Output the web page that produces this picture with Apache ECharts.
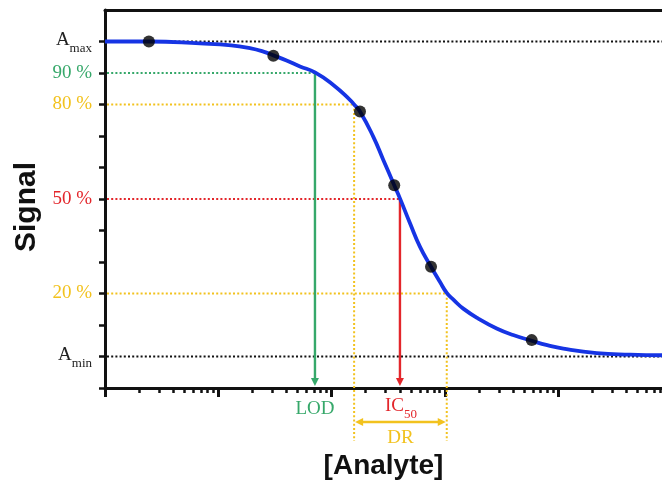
<!DOCTYPE html>
<html><head><meta charset="utf-8">
<script src="https://cdn.jsdelivr.net/npm/echarts@6/dist/echarts.min.js"></script>
<style>html,body{margin:0;padding:0;background:#fff}#c{width:662px;height:482px}</style>
</head><body><div id="c"></div>
<script>
// ---- data ----
const curveX = [1, 2.44, 6.9, 13, 19.0, 25, 30.6, 40, 52.6, 71.3, 103.5, 145, 158, 178, 233, 286, 357, 401, 492, 603, 754, 900, 1038, 1200, 1452, 2000, 2864, 4000, 5834, 8000, 11100, 21900, 43000, 82400];
const curveY = [11.0, 11.0, 10.94, 10.88, 10.79, 10.68, 10.56, 10.4, 10.21, 10.02, 9.62, 9.15, 9.0, 8.78, 7.98, 7.24, 6.44, 6.02, 5.23, 4.48, 3.85, 3.38, 3.02, 2.79, 2.52, 2.19, 1.89, 1.68, 1.50, 1.36, 1.25, 1.11, 1.06, 1.04];
const pointX = [2.44, 30.6, 178, 357, 754, 5834];
const pointY = [11.0, 10.55, 8.78, 6.44, 3.85, 1.52];
const levelValues = [11, 10, 9, 6, 3, 1];
const levelLabels = ['A|max', '90 %', '80 %', '50 %', '20 %', 'A|min'];
const yTickValues = [0, 1, 2, 3, 4, 5, 6, 7, 8, 9, 10, 11];
const majorTicks = [1, 10, 100, 1000, 10000];
const minorTicks = [2,3,4,5,6,7,8,9,20,30,40,50,60,70,80,90,200,300,400,500,600,700,800,900,2000,3000,4000,5000,6000,7000,8000,9000,20000,30000,40000,50000,60000,70000,80000];
const xMin = 1, xMax = 82400, yMin = 0, yMax = 12;
const lodX = 71.3, drLowX = 158, ic50X = 401, drHighX = 1038;
const amax = 11, amin = 1, p90 = 10, p80 = 9, p50 = 6, p20 = 3;

// ---- styles ----
const GREEN = '#36a86a', GOLD = '#f2c21e', RED = '#e3262b', BLUE = '#1634e4', INK = '#111';
const SERIF = '"Liberation Serif", "Times New Roman", serif';
const SANS = '"Liberation Sans", Arial, sans-serif';
const levelStyle = {11: 'a', 10: 'g', 9: 'y', 6: 'r', 3: 'y', 1: 'a'};

function levelFormatter(v) {
  const i = levelValues.indexOf(v);
  if (i < 0) return '';
  const lab = levelLabels[i];
  const key = levelStyle[v];
  if (lab.indexOf('|') >= 0) {
    const p = lab.split('|');
    return '{a|' + p[0] + '}{s|' + p[1] + '}';
  }
  return '{' + key + '|' + lab + '}';
}

const chart = echarts.init(document.getElementById('c'));
const baseX = {
  type: 'log', logBase: 10, min: xMin, max: xMax, gridIndex: 0,
  splitLine: {show: false}, axisLabel: {show: false}, minorTick: {show: false}
};
const option = {
  backgroundColor: '#fff',
  animation: false,
  grid: {left: 105, right: 0, top: 10, bottom: 94, containLabel: false, outerBoundsMode: 'none'},
  xAxis: [
    Object.assign({}, baseX, {
      position: 'bottom',
      axisLine: {show: true, lineStyle: {color: INK, width: 3}},
      axisTick: {show: true, customValues: majorTicks, length: 9, lineStyle: {color: INK, width: 3}},
      name: '[Analyte]', nameLocation: 'middle', nameGap: 64,
      nameTextStyle: {fontFamily: SANS, fontWeight: 'bold', fontSize: 28, color: INK}
    }),
    Object.assign({}, baseX, {
      position: 'bottom',
      axisLine: {show: false},
      axisTick: {show: true, customValues: minorTicks, length: 5, lineStyle: {color: INK, width: 2.5}}
    }),
    Object.assign({}, baseX, {
      position: 'top',
      axisLine: {show: true, lineStyle: {color: INK, width: 3}},
      axisTick: {show: false}
    })
  ],
  yAxis: {
    type: 'value', min: yMin, max: yMax, interval: 1,
    splitLine: {show: false},
    axisLine: {show: true, lineStyle: {color: INK, width: 3}},
    axisTick: {show: true, customValues: yTickValues, length: 6, lineStyle: {color: INK, width: 2.5}},
    axisLabel: {
      show: true, customValues: levelValues, margin: 13, formatter: levelFormatter,
      rich: {
        a: {fontFamily: SERIF, fontSize: 19, color: '#222', lineHeight: 22, verticalAlign: 'top'},
        s: {fontFamily: SERIF, fontSize: 13, color: '#222', lineHeight: 13, padding: [12, 0, 0, 0], verticalAlign: 'top'},
        g: {fontFamily: SERIF, fontSize: 19, color: GREEN},
        y: {fontFamily: SERIF, fontSize: 19, color: GOLD},
        r: {fontFamily: SERIF, fontSize: 19, color: RED}
      }
    },
    name: 'Signal', nameLocation: 'middle', nameGap: 62, nameRotate: 90,
    nameTextStyle: {fontFamily: SANS, fontWeight: 'bold', fontSize: 30, color: INK, padding: [0, 16, 0, 0]}
  },
  series: [
    {
      type: 'line', xAxisIndex: 0, yAxisIndex: 0, z: 5,
      data: curveX.map((x, i) => [x, curveY[i]]),
      smooth: 0.5, showSymbol: false, symbol: 'none',
      lineStyle: {color: BLUE, width: 3.8}
    },
    {
      type: 'scatter', xAxisIndex: 0, yAxisIndex: 0, z: 6,
      data: pointX.map((x, i) => [x, pointY[i]]),
      symbol: 'circle', symbolSize: 12,
      itemStyle: {color: '#000'}
    }
  ]
};
chart.setOption(option);

// ---- annotations positioned through the chart's own scales ----
function P(x, y) { return chart.convertToPixel({seriesIndex: 0}, [x, y]); }
const y0 = P(xMin, 0)[1];
const belowEnd = y0 + 53;
const DASH = [2, 2.2];
const els = [];
function dotted(x1, y1, x2, y2, color) {
  els.push({type: 'line', z: 1, shape: {x1, y1, x2, y2}, style: {stroke: color, lineWidth: 2, lineDash: DASH}});
}
function hLevel(level, xEnd, color) {
  const a = P(xMin, level), b = P(xEnd, level);
  dotted(a[0] + 2, a[1], b[0], b[1], color);
}
function downArrow(x, yTop, color) {
  const px = P(x, 0)[0];
  const top = P(x, yTop)[1];
  const tip = y0 - 2;
  els.push({type: 'line', z: 2, shape: {x1: px, y1: top, x2: px, y2: tip - 6}, style: {stroke: color, lineWidth: 2.4}});
  els.push({type: 'polygon', z: 2, shape: {points: [[px - 4, tip - 8], [px + 4, tip - 8], [px, tip]]}, style: {fill: color}});
}
hLevel(amax, xMax, INK);
hLevel(amin, xMax, INK);
hLevel(p90, lodX, GREEN);
hLevel(p80, drLowX, GOLD);
hLevel(p50, ic50X, RED);
hLevel(p20, drHighX, GOLD);
[[drLowX, p80], [drHighX, p20]].forEach(([x, lv]) => {
  const a = P(x, lv);
  dotted(a[0], a[1], a[0], belowEnd, GOLD);
});
downArrow(lodX, p90, GREEN);
downArrow(ic50X, p50, RED);
const dl = P(drLowX, 0)[0], dh = P(drHighX, 0)[0];
const ay = y0 + 34;
els.push({type: 'line', z: 2, shape: {x1: dl + 6, y1: ay, x2: dh - 6, y2: ay}, style: {stroke: GOLD, lineWidth: 2.4}});
els.push({type: 'polygon', z: 2, shape: {points: [[dl + 1, ay], [dl + 9, ay - 4], [dl + 9, ay + 4]]}, style: {fill: GOLD}});
els.push({type: 'polygon', z: 2, shape: {points: [[dh - 1, ay], [dh - 9, ay - 4], [dh - 9, ay + 4]]}, style: {fill: GOLD}});
const lodPx = P(lodX, 0)[0], icPx = P(ic50X, 0)[0];
els.push({type: 'text', z: 3, style: {text: 'LOD', x: lodPx, y: y0 + 21, align: 'center', verticalAlign: 'middle', fontFamily: SERIF, fontSize: 19, fill: GREEN}});
els.push({type: 'text', z: 3, style: {
  text: '{a|IC}{s|50}', x: icPx + 1, y: y0 + 20, align: 'center', verticalAlign: 'middle',
  rich: {
    a: {fontFamily: SERIF, fontSize: 19, fill: RED, lineHeight: 22, verticalAlign: 'top'},
    s: {fontFamily: SERIF, fontSize: 13, fill: RED, lineHeight: 13, padding: [11, 0, 0, 0], verticalAlign: 'top'}
  }}});
els.push({type: 'text', z: 3, style: {text: 'DR', x: (dl + dh) / 2, y: y0 + 50, align: 'center', verticalAlign: 'middle', fontFamily: SERIF, fontSize: 19, fill: GOLD}});
chart.setOption({graphic: {elements: els}});
</script>
</body></html>
